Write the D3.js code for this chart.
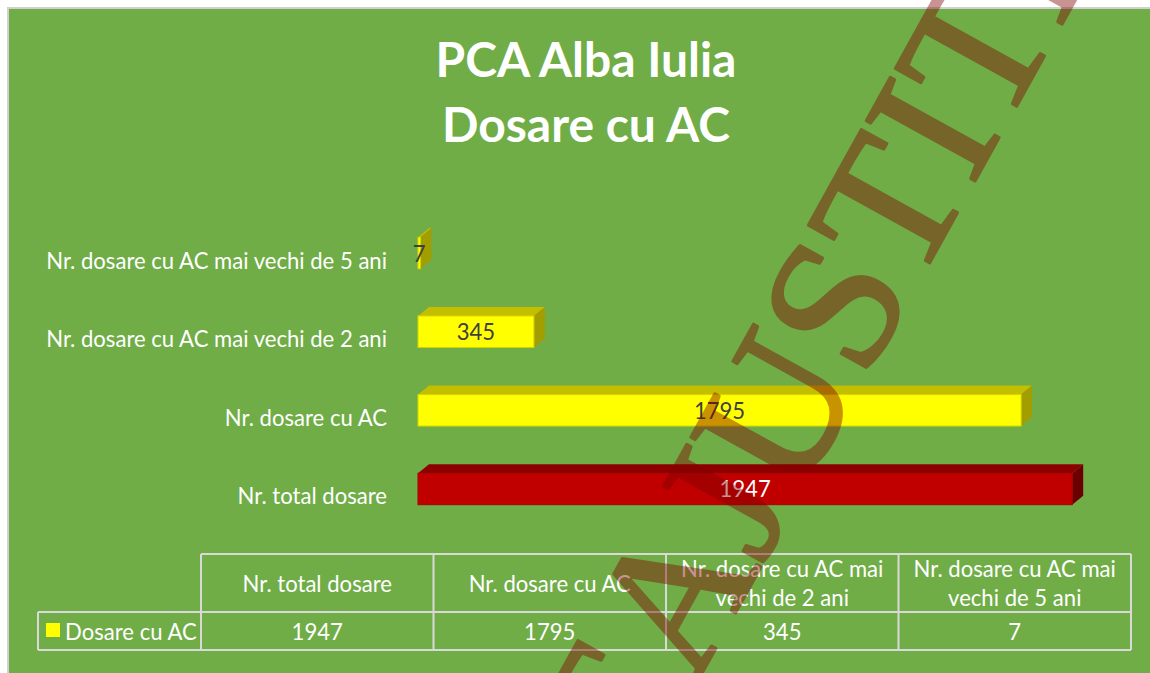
<!DOCTYPE html>
<html>
<head>
<meta charset="utf-8">
<script src="https://cdn.jsdelivr.net/npm/d3@7"></script>
<style>
    body { margin: 0; background: #fff; }
    svg { display: block; }
    text { font-family: Lato, "Open Sans", sans-serif; }
</style>
</head>
<body>
<svg id="chart" width="1150" height="673"></svg>
<script>
// Chart data
const titleLines = ["PCA Alba Iulia", "Dosare cu AC"]
const categories = ["Nr. total dosare", "Nr. dosare cu AC",
                    "Nr. dosare cu AC mai vechi de 2 ani", "Nr. dosare cu AC mai vechi de 5 ani"]
const values = [1947, 1795, 345, 7]
const seriesName = "Dosare cu AC"
const xDomain = [0, 2000]
const watermark = "LUMEAJUSTITIEI"

const width = 1150, height = 673
const svg = d3.select("#chart")

// measure a string at 100px and return the size that makes it target px wide
function fitSize(str, weight, target) {
    const t = svg.append("text").attr("font-size", 100).attr("font-weight", weight).text(str)
    const w = t.node().getComputedTextLength()
    t.remove()
    return 100 * target / w
}

const labelSize = fitSize("Nr. dosare cu AC mai vechi de 5 ani", 400, 341)
const titleSize = fitSize(titleLines[0], 700, 301)

// chart area
svg.append("rect")
    .attr("x", 8).attr("y", 8)
    .attr("width", width).attr("height", height)
    .attr("fill", "#70AD47")
    .attr("stroke", "#D0D0D0").attr("stroke-width", 2)

// title
svg.append("g").selectAll("text")
    .data(titleLines)
    .enter()
    .append("text")
        .attr("x", 586)
        .attr("y", (d, i) => 77 + i * 65)
        .attr("text-anchor", "middle")
        .attr("font-size", titleSize)
        .attr("font-weight", 700)
        .attr("fill", "#fff")
        .text(d => d)

// scales
const x = d3.scaleLinear().domain(xDomain).range([418, 1090])
const y = d3.scaleBand()
    .domain(categories.slice().reverse())
    .range([198, 544])
    .paddingInner(0.6)
    .paddingOuter(0.5)

const depthX = 11, depthY = 9
const bars = categories.map((c, i) => ({ cat: c, value: values[i], highlight: i === 0 }))
const faceColors = d => d.highlight
    ? { front: "#C00000", top: "#8E0000", side: "#6C0000", edge: "#A80000" }
    : { front: "#FFFF00", top: "#C4BE00", side: "#A39E00", edge: "#D6D600" }

const barG = svg.append("g")
bars.forEach(d => {
    const x0 = x(0), x1 = x(d.value), y0 = y(d.cat), h = y.bandwidth()
    const col = faceColors(d)
    barG.append("polygon")
        .attr("points", [[x0, y0], [x0 + depthX, y0 - depthY], [x1 + depthX, y0 - depthY], [x1, y0]].join(" "))
        .attr("fill", col.top)
    barG.append("polygon")
        .attr("points", [[x1, y0], [x1 + depthX, y0 - depthY], [x1 + depthX, y0 + h - depthY], [x1, y0 + h]].join(" "))
        .attr("fill", col.side)
    barG.append("rect")
        .attr("x", x0).attr("y", y0)
        .attr("width", x1 - x0).attr("height", h)
        .attr("fill", col.front)
        .attr("stroke", col.edge).attr("stroke-width", 1)
})

// category labels
svg.append("g").selectAll("text")
    .data(categories)
    .enter()
    .append("text")
        .attr("x", 387)
        .attr("y", d => y(d) + y.bandwidth() / 2 + 7)
        .attr("dominant-baseline", "central")
        .attr("text-anchor", "end")
        .attr("font-size", labelSize)
        .attr("fill", "#fff")
        .text(d => d)

// data labels
svg.append("g").selectAll("text")
    .data(bars)
    .enter()
    .append("text")
        .attr("x", d => (x(0) + x(d.value)) / 2)
        .attr("y", d => y(d.cat) + y.bandwidth() / 2)
        .attr("dominant-baseline", "central")
        .attr("text-anchor", "middle")
        .attr("font-size", labelSize)
        .attr("fill", d => d.highlight ? "#fff" : "#404040")
        .text(d => d.value)

// data table
const col = d3.scaleBand().domain(categories).range([201, 1131])
const tTop = 554, tMid = 612, tBot = 650, tLeft = 38
const grid = svg.append("g").attr("stroke", "#D9D9D9").attr("stroke-width", 2)
grid.append("line").attr("x1", col.range()[0]).attr("x2", col.range()[1]).attr("y1", tTop).attr("y2", tTop)
grid.append("line").attr("x1", tLeft).attr("x2", col.range()[1]).attr("y1", tMid).attr("y2", tMid)
grid.append("line").attr("x1", tLeft).attr("x2", col.range()[1]).attr("y1", tBot).attr("y2", tBot)
grid.append("line").attr("x1", tLeft).attr("x2", tLeft).attr("y1", tMid).attr("y2", tBot)
categories.concat([null]).forEach(c => {
    const xx = c ? col(c) : col.range()[1]
    grid.append("line").attr("x1", xx).attr("x2", xx).attr("y1", tTop).attr("y2", tBot)
})

function wrap(str, maxW) {
    const words = str.split(" ")
    const probe = svg.append("text").attr("font-size", labelSize)
    const lines = []
    let line = []
    words.forEach(w => {
        probe.text(line.concat([w]).join(" "))
        if (line.length && probe.node().getComputedTextLength() > maxW) {
            lines.push(line.join(" "))
            line = [w]
        } else {
            line.push(w)
        }
    })
    lines.push(line.join(" "))
    probe.remove()
    return lines
}

const lineH = 29
categories.forEach((c, i) => {
    const lines = wrap(c, col.bandwidth() - 8)
    const cx = col(c) + col.bandwidth() / 2
    const cy = (tTop + tMid) / 2 - (lines.length - 1) * lineH / 2
    lines.forEach((ln, j) => {
        svg.append("text")
            .attr("x", cx).attr("y", cy + j * lineH)
            .attr("dominant-baseline", "central")
            .attr("text-anchor", "middle")
            .attr("font-size", labelSize)
            .attr("fill", "#fff")
            .text(ln)
    })
    svg.append("text")
        .attr("x", cx).attr("y", (tMid + tBot) / 2)
        .attr("dominant-baseline", "central")
        .attr("text-anchor", "middle")
        .attr("font-size", labelSize)
        .attr("fill", "#fff")
        .text(values[i])
})

// legend key in the table
svg.append("rect")
    .attr("x", 46).attr("y", 623).attr("width", 14).attr("height", 14)
    .attr("fill", "#FFFF00")
svg.append("text")
    .attr("x", 65).attr("y", (tMid + tBot) / 2)
    .attr("dominant-baseline", "central")
    .attr("font-size", labelSize)
    .attr("fill", "#fff")
    .text(seriesName)

// watermark, anchored on the centre of the "U" after the "J"
const wmG = svg.append("g")
    .attr("transform", "translate(775,410) rotate(-61)")
    .attr("opacity", 0.42)
const wm = wmG.append("text")
    .style("font-family", "'Liberation Serif', 'DejaVu Serif', serif")
    .attr("font-size", 190)
    .attr("dominant-baseline", "central")
    .attr("fill", "#800000")
    .attr("stroke", "#800000")
    .attr("stroke-width", 3)
    .attr("stroke-linejoin", "round")
    .text(watermark)
const uIdx = watermark.indexOf("JU") + 1
const uCenter = wm.node().getSubStringLength(0, uIdx) + wm.node().getSubStringLength(uIdx, 1) / 2
wm.attr("x", -uCenter)
</script>
</body>
</html>
